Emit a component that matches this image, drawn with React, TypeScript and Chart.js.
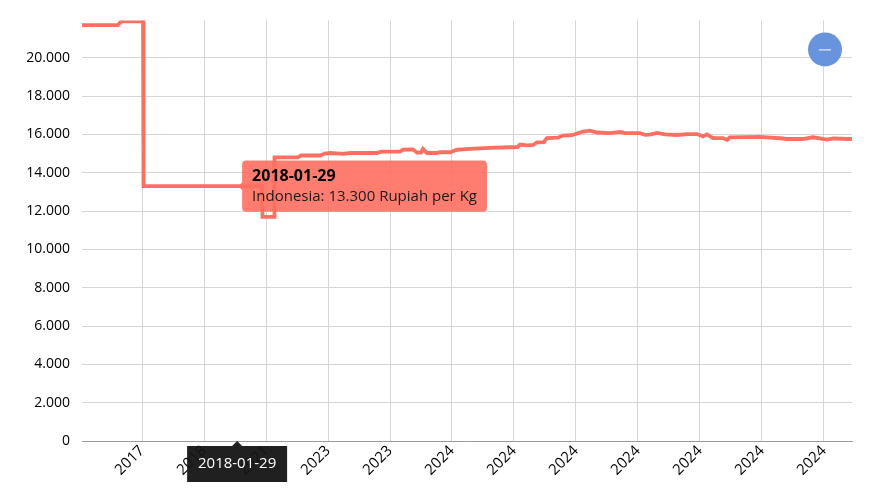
import React, { useEffect, useRef } from "react";
import { Chart, registerables } from "chart.js";

Chart.register(...registerables);

// x positions in tenths of an axis period (ticks every 10 units)
const periods = [
  0, 6.13, 6.61, 10.16, 10.24, 25.5, 29.35, 29.43, 31.29, 31.37,
  35.16, 35.64, 38.71, 39.5, 40.32, 42.42, 43.55, 47.9, 48.55, 51.61,
  52.1, 53.71, 54.35, 55.0, 55.32, 55.97, 57.58, 58.06, 59.68, 60.81,
  62.9, 66.13, 69.35, 70.6, 70.97, 72.1, 73.1, 73.7, 74.8, 75.3,
  77.1, 77.9, 79.35, 80.16, 81.1, 82.26, 83.4, 85.5, 87.1, 87.9,
  90.3, 91.1, 91.9, 93.1, 94.35, 96.3, 97.9, 99.5, 100.5, 101.1,
  102.1, 103.7, 104.4, 104.8, 109.7, 110.8, 112.9, 114.0, 116.6, 118.2,
  120.5, 121.5, 123.7, 124.6,
];

const prices = [
  21700, 21700, 21900, 21900, 13300, 13300, 13300, 11700, 11700, 14800,
  14800, 14900, 14900, 15000, 15030, 14980, 15030, 15030, 15100, 15100,
  15200, 15220, 15050, 15050, 15240, 15030, 15030, 15070, 15070, 15200,
  15240, 15300, 15330, 15340, 15470, 15430, 15450, 15590, 15600, 15810,
  15830, 15940, 15960, 16050, 16150, 16200, 16100, 16070, 16130, 16070,
  16070, 15980, 15990, 16080, 16000, 15970, 16020, 16020, 15900, 16000,
  15810, 15810, 15710, 15850, 15870, 15850, 15800, 15760, 15760, 15850,
  15730, 15790, 15760, 15760,
];

const xTickPositions = [10, 20, 30, 40, 50, 60, 70, 80, 90, 100, 110, 120];
const xTickLabels = [
  "2017", "2018", "2021", "2023", "2023", "2024",
  "2024", "2024", "2024", "2024", "2024", "2024",
];
const yTickValues = [0, 2000, 4000, 6000, 8000, 10000, 12000, 14000, 16000, 18000, 20000];

const seriesName = "Indonesia";
const unitLabel = "Rupiah per Kg";
const activeIndex = 5;
const activeDate = "2018-01-29";

const FONT = "'Open Sans', 'Noto Sans', sans-serif";

const fmt = (v: number) =>
  Math.round(v).toString().replace(/\B(?=(\d{3})+(?!\d))/g, ".");

const overlayPlugin = {
  id: "overlay",
  afterDraw(chart: any) {
    const ctx = chart.ctx;
    const meta = chart.getDatasetMeta(0);
    const pt = meta.data[activeIndex];
    if (!pt) return;
    const cx = pt.x - 1;
    const top = chart.chartArea.bottom + 5;
    ctx.save();
    ctx.fillStyle = "rgba(20,20,20,0.95)";
    ctx.beginPath();
    ctx.moveTo(cx - 5, top);
    ctx.lineTo(cx, top - 5);
    ctx.lineTo(cx + 5, top);
    ctx.closePath();
    ctx.fill();
    ctx.fillRect(cx - 50, top, 100, 36);
    ctx.fillStyle = "#ffffff";
    ctx.font = `15px ${FONT}`;
    ctx.textAlign = "center";
    ctx.textBaseline = "middle";
    ctx.fillText(activeDate, cx, top + 18);

    // zoom-out button
    const bx = chart.chartArea.right - 27;
    const by = chart.chartArea.top + 29;
    ctx.fillStyle = "#6794dc";
    ctx.beginPath();
    ctx.arc(bx, by, 17, 0, Math.PI * 2);
    ctx.fill();
    ctx.strokeStyle = "#ffffff";
    ctx.lineWidth = 1;
    ctx.beginPath();
    ctx.moveTo(bx - 6, by + 0.5);
    ctx.lineTo(bx + 6, by + 0.5);
    ctx.stroke();
    ctx.restore();
  },
};

export default function App() {
  const canvasRef = useRef<HTMLCanvasElement | null>(null);

  useEffect(() => {
    document.body.style.margin = "0";
    const canvas = canvasRef.current;
    if (!canvas) return;
    const chart = new Chart(canvas, {
      type: "line",
      data: {
        datasets: [
          {
            label: seriesName,
            data: periods.map((x, i) => ({ x, y: prices[i] })),
            borderColor: "#ff6f61",
            backgroundColor: "#ff6f61",
            borderWidth: 3.8,
            pointRadius: 0,
            pointHoverRadius: 0,
            tension: 0,
            fill: false,
          },
        ],
      },
      options: {
        responsive: false,
        animation: false,
        events: [],
        layout: { padding: { top: 19, right: 21, left: 0, bottom: 0 } },
        plugins: {
          legend: { display: false },
          tooltip: {
            enabled: true,
            backgroundColor: "rgba(255,111,97,0.9)",
            titleColor: "#000000",
            bodyColor: "#1a1a1a",
            titleFont: { family: FONT, size: 16, weight: "bold" },
            bodyFont: { family: FONT, size: 15 },
            padding: { top: 6, bottom: 6, left: 10, right: 10 },
            titleMarginBottom: 2,
            caretSize: 4,
            caretPadding: 0,
            cornerRadius: 4,
            displayColors: false,
            xAlign: "left",
            yAlign: "center",
            callbacks: {
              title: () => activeDate,
              label: (c: any) => `${seriesName}: ${fmt(c.parsed.y)} ${unitLabel}`,
            },
          },
        },
        scales: {
          x: {
            type: "linear",
            min: 0.32,
            max: 124.52,
            afterBuildTicks: (s: any) => {
              s.ticks = xTickPositions.map((v) => ({ value: v }));
            },
            afterFit: (s: any) => {
              s.height = 59;
            },
            ticks: {
              autoSkip: false,
              maxRotation: 45,
              minRotation: 45,
              padding: 1,
              color: "#000000",
              font: { family: FONT, size: 15 },
              callback: (v: any) => {
                const i = xTickPositions.indexOf(Number(v));
                return i >= 0 ? xTickLabels[i] : "";
              },
            },
            grid: { color: "#d6d6d6", drawTicks: false },
            border: { color: "#9a9a9a", width: 1 },
          },
          y: {
            type: "linear",
            min: 0,
            max: 21950,
            afterBuildTicks: (s: any) => {
              s.ticks = yTickValues.map((v) => ({ value: v }));
            },
            afterFit: (s: any) => {
              s.width = 82;
            },
            ticks: {
              padding: 12,
              color: "#000000",
              font: { family: FONT, size: 14 },
              callback: (v: any) => fmt(Number(v)),
            },
            grid: { color: "#d6d6d6", drawTicks: false },
            border: { display: false },
          },
        },
      },
      plugins: [overlayPlugin],
    } as any);

    chart.tooltip?.setActiveElements([{ datasetIndex: 0, index: activeIndex }], {
      x: 0,
      y: 0,
    });
    chart.update();

    return () => chart.destroy();
  }, []);

  return (
    <div style={{ width: 873, height: 500, position: "relative", background: "#fff" }}>
      <canvas ref={canvasRef} width={873} height={500} style={{ display: "block" }} />
    </div>
  );
}
